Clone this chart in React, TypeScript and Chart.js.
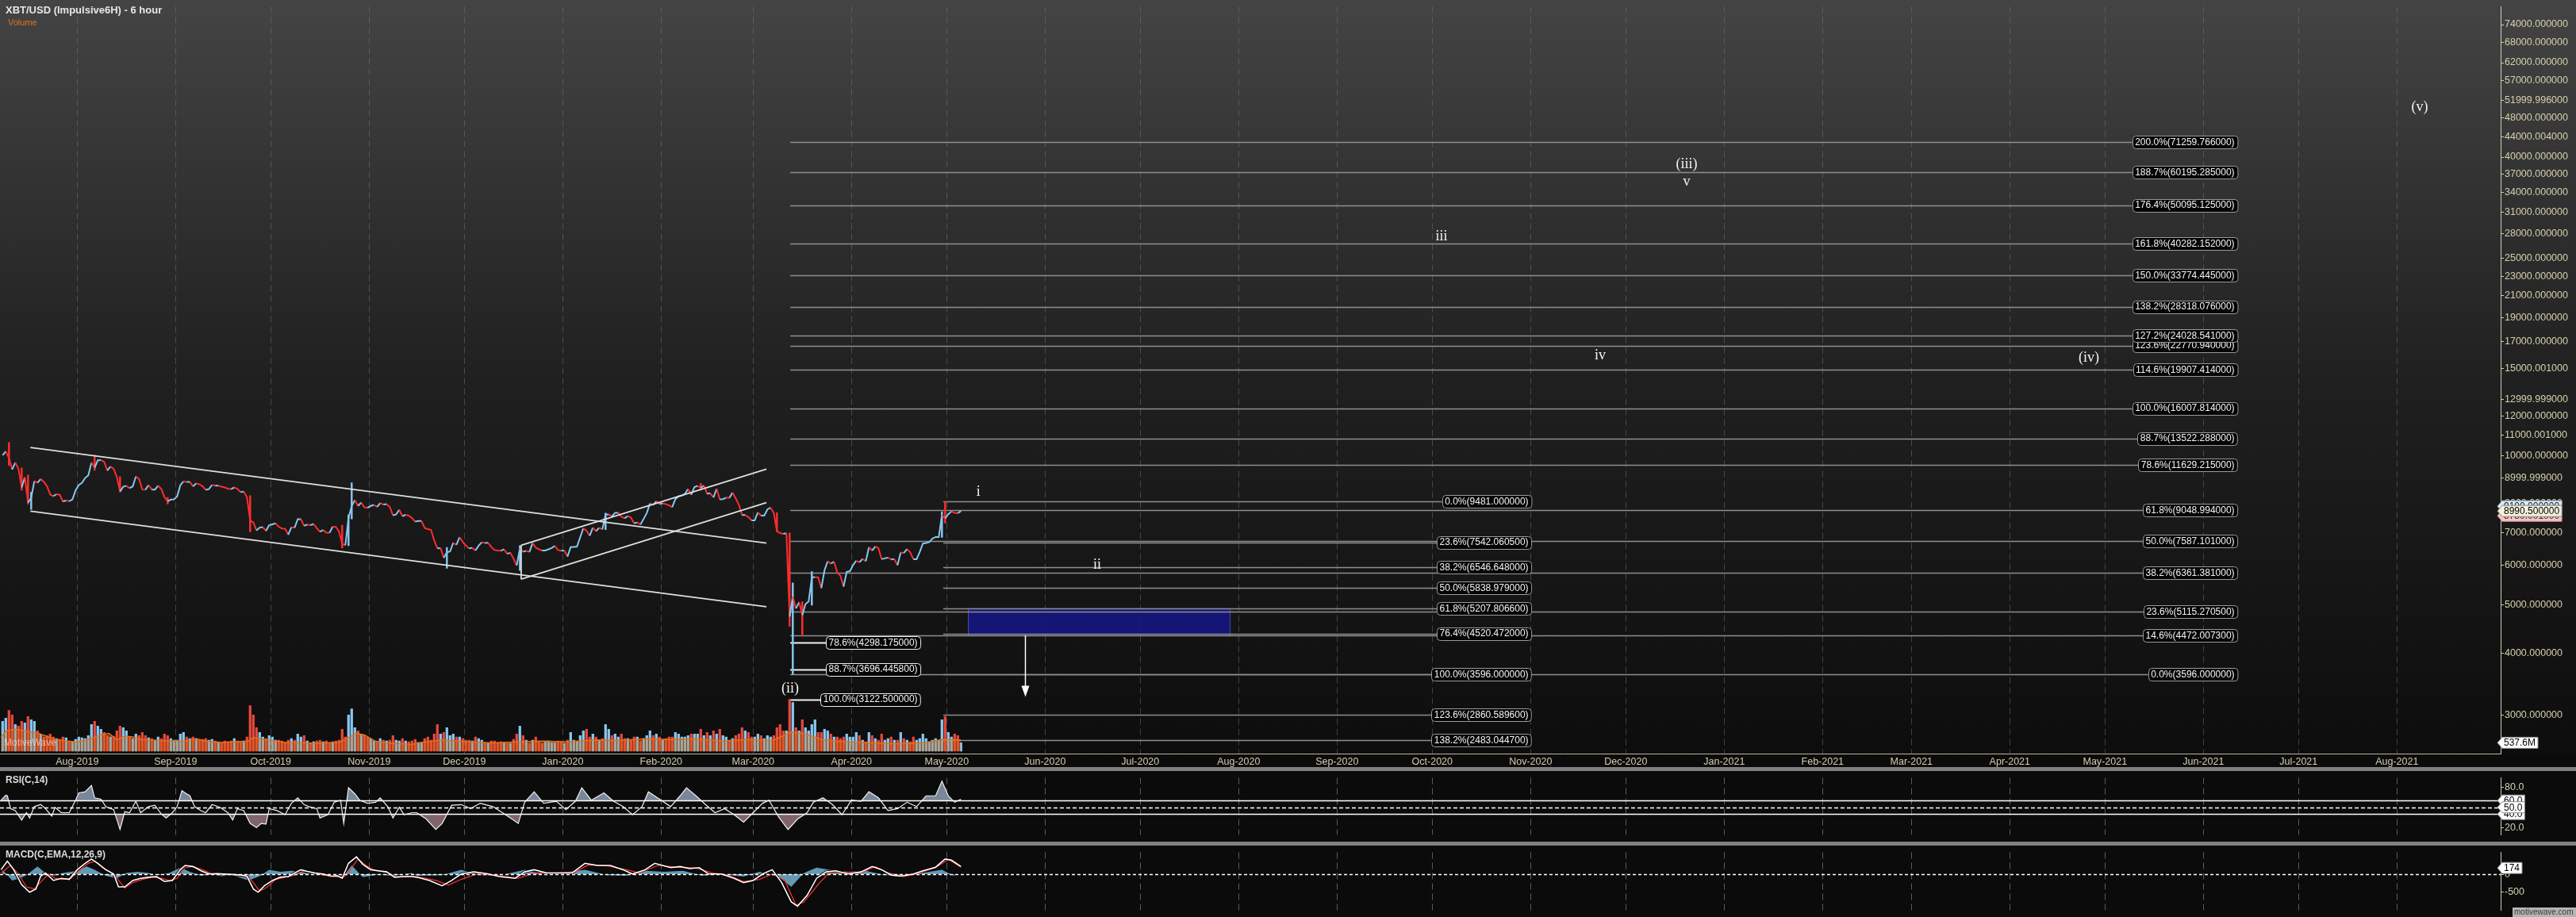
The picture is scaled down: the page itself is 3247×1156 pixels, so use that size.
import React, { useEffect, useRef } from 'react';
import { Chart, registerables } from 'chart.js';

Chart.register(...registerables);

const FONT = '"Liberation Sans", Arial, Helvetica, sans-serif';
const SERIF = '"Liberation Serif", "DejaVu Serif", "Times New Roman", serif';
const KHAKI = '#d4cfad';
const UP = '#86c8f0';
const DOWN = '#ff2d2d';

// ---------------- axis labels ----------------
const monthTickLabels = ['Aug-2019', 'Sep-2019', 'Oct-2019', 'Nov-2019', 'Dec-2019', 'Jan-2020', 'Feb-2020', 'Mar-2020', 'Apr-2020', 'May-2020', 'Jun-2020', 'Jul-2020', 'Aug-2020', 'Sep-2020', 'Oct-2020', 'Nov-2020', 'Dec-2020', 'Jan-2021', 'Feb-2021', 'Mar-2021', 'Apr-2021', 'May-2021', 'Jun-2021', 'Jul-2021', 'Aug-2021'];
const priceTickValues = [74000, 68000, 62000, 57000, 51999.996, 48000, 44000.004, 40000, 37000, 34000, 31000, 28000, 25000, 23000, 21000, 19000, 17000, 15000.001, 12999.999, 12000, 11000.001, 10000, 8999.999, 8000, 7000, 6000, 5000, 4000, 3000];
const priceTickLabels = ['74000.000000', '68000.000000', '62000.000000', '57000.000000', '51999.996000', '48000.000000', '44000.004000', '40000.000000', '37000.000000', '34000.000000', '31000.000000', '28000.000000', '25000.000000', '23000.000000', '21000.000000', '19000.000000', '17000.000000', '15000.001000', '12999.999000', '12000.000000', '11000.001000', '10000.000000', '8999.999000', '8000.000000', '7000.000000', '6000.000000', '5000.000000', '4000.000000', '3000.000000'];
const rsiTickValues = [80, 20];
const rsiTickLabels = ['80.0', '20.0'];
const macdTickValues = [0, -500];
const macdTickLabels = ['0', '-500'];

// ---------------- price (daily closes, XBT/USD) ----------------
const priceStartDate = '2019-07-08';
const closeJul2019 = [12290, 12570, 12100, 11350, 11800, 11390, 10260, 10860, 9430, 9680, 10640, 10530, 10760, 10590, 10330, 9860, 9770, 9880, 9850, 9480, 9530, 9500, 9590, 10090];
const closeAug2019 = [10400, 10520, 10820, 10980, 11800, 11470, 11950, 11960, 11850, 11290, 11540, 11390, 10880, 10030, 10300, 10360, 10220, 10320, 10920, 10760, 10140, 10130, 10400, 10140, 10140, 10360, 10180, 9720, 9490, 9590, 9600];
const closeSep2019 = [9760, 10390, 10620, 10580, 10580, 10320, 10500, 10440, 10340, 10120, 10160, 10410, 10360, 10360, 10310, 10260, 10190, 10160, 10270, 10180, 9990, 10030, 9700, 8530, 8430, 8060, 8190, 8210, 8040, 8300];
const closeOct2019 = [8340, 8390, 8230, 8150, 8140, 7870, 8210, 8180, 8590, 8590, 8270, 8330, 8300, 8360, 8160, 8000, 8080, 7960, 7950, 8230, 8220, 8020, 7470, 7420, 8660, 9250, 9550, 9250, 9430, 9180, 9150];
const closeNov2019 = [9250, 9300, 9200, 9400, 9320, 9340, 9200, 8770, 8820, 9050, 8730, 8800, 8760, 8640, 8470, 8500, 8500, 8170, 8120, 8080, 7620, 7290, 7300, 6910, 7130, 7160, 7520, 7430, 7760, 7560];
const closeDec2019 = [7400, 7290, 7310, 7200, 7400, 7540, 7510, 7520, 7340, 7220, 7200, 7190, 7250, 7070, 7110, 6880, 6620, 7280, 7150, 7190, 7140, 7510, 7320, 7250, 7200, 7200, 7250, 7300, 7390, 7220, 7190];
const closeJan2020 = [7200, 6960, 7340, 7350, 7360, 7760, 8160, 8050, 7820, 8190, 8030, 8180, 8110, 8810, 8820, 8720, 8900, 8900, 8700, 8630, 8740, 8660, 8390, 8430, 8330, 8600, 8890, 9380, 9300, 9500, 9350];
const closeFeb2020 = [9390, 9340, 9290, 9180, 9610, 9760, 9800, 9900, 10170, 9850, 10280, 10350, 10240, 10370, 9900, 9930, 9700, 10180, 9600, 9610, 9690, 9670, 9970, 9660, 9310, 8790, 8790, 8690, 8530];
const closeMar2020 = [8530, 8920, 8760, 8760, 9070, 9160, 8900, 8030, 7940, 7910, 7930, 4970, 5560, 5200, 5390, 5010, 5330, 5410, 6190, 6200, 6190, 5830, 6450, 6780, 6690, 6760, 6370, 6250, 5880, 6390, 6410];
const closeApr2020 = [6640, 6800, 6740, 6870, 6780, 7340, 7200, 7370, 7290, 6860, 6890, 6920, 6850, 6860, 6630, 7120, 7100, 7260, 7130, 6860, 6860, 7140, 7490, 7510, 7550, 7700, 7770, 7770, 8780, 8630];
const closeMay2020 = [8830, 8970, 8900, 8880, 8990.5];

// notable intraday extremes (wicks)
const wickDates = ['2019-07-10', '2019-07-14', '2019-07-16', '2019-07-17', '2019-08-06', '2019-08-14', '2019-08-29', '2019-09-24', '2019-10-23', '2019-10-25', '2019-10-26', '2019-11-25', '2019-12-18', '2020-01-14', '2020-02-13', '2020-03-08', '2020-03-12', '2020-03-13', '2020-03-16', '2020-03-19', '2020-04-29', '2020-04-30'];
const wickLows = [11600, 10100, 9350, 9070, 11300, 10000, 9350, 8000, 7300, 7400, 8600, 6515, 6435, 8100, 10100, 8000, 4700, 3596, 4450, 5300, 7750, 8400];
const wickHighs = [13200, 11450, 11000, 9990, 12300, 10900, 9700, 9800, 8300, 8800, 10540, 7330, 7400, 8880, 10500, 8900, 7950, 6000, 5400, 6400, 8950, 9481];

// ---------------- volume (millions) ----------------
const volJul2019 = [1900, 2100, 2600, 2300, 1700, 1600, 1900, 1800, 2200, 2000, 1900, 1300, 1100, 900, 1000, 1100, 900, 800, 750, 900, 850, 650, 600, 750];
const volAug2019 = [900, 850, 800, 1000, 1700, 1900, 1600, 1400, 1200, 1000, 900, 950, 1300, 1600, 1500, 1300, 900, 800, 1100, 1000, 1200, 1000, 850, 800, 700, 900, 800, 1100, 1000, 800, 700];
const volSep2019 = [700, 1100, 1200, 900, 800, 900, 800, 700, 750, 800, 700, 750, 650, 600, 550, 650, 600, 650, 800, 650, 600, 650, 900, 2900, 2300, 1500, 1200, 900, 800, 1000];
const volOct2019 = [900, 700, 700, 650, 550, 700, 800, 700, 1100, 900, 1000, 650, 550, 600, 650, 700, 600, 650, 500, 600, 650, 700, 1400, 900, 2300, 2700, 1500, 1300, 1100, 1000, 900];
const volNov2019 = [800, 650, 600, 800, 700, 650, 700, 1000, 700, 650, 800, 650, 600, 650, 750, 550, 550, 800, 900, 700, 1100, 1700, 1100, 1200, 1500, 1000, 1100, 900, 900, 800];
const volDec2019 = [700, 700, 650, 900, 800, 700, 550, 500, 650, 650, 550, 600, 550, 500, 500, 750, 1100, 1600, 1000, 700, 500, 700, 900, 650, 500, 600, 650, 550, 550, 650, 600];
const volJan2020 = [500, 700, 1200, 700, 650, 1000, 1300, 1400, 900, 1100, 900, 700, 800, 1700, 1400, 1000, 1100, 900, 1100, 800, 800, 700, 900, 900, 650, 800, 1000, 1300, 1000, 1100, 900];
const volFeb2020 = [700, 800, 900, 900, 1200, 1100, 900, 900, 1000, 1100, 1100, 1100, 1400, 1000, 1200, 1000, 1300, 1100, 1400, 1000, 900, 700, 800, 1000, 1100, 1500, 1300, 1200, 900];
const volMar2020 = [900, 1100, 1000, 800, 1000, 900, 1000, 1500, 1700, 1300, 1300, 3300, 3100, 1500, 1300, 2000, 1500, 1300, 1700, 2000, 1200, 1200, 1400, 1300, 1100, 900, 900, 800, 900, 1100, 900];
const volApr2020 = [900, 1200, 1000, 700, 600, 1200, 1000, 800, 700, 1100, 700, 800, 900, 700, 700, 1200, 800, 700, 600, 900, 700, 800, 1100, 800, 600, 700, 800, 700, 2000, 2200];
const volMay2020 = [1200, 900, 1100, 1000, 537.6];

// volume moving average: [day since 2019-08-01, millions]
const volMaPoints = [[-24, 880], [-22.5, 1290], [-19.5, 1400], [-16, 1290], [-12, 1130], [-7.5, 800], [-3.5, 640], [0, 590], [3, 720], [7.5, 1040], [10, 1130], [12.5, 720], [15, 965], [17.5, 915], [20.5, 750], [25.5, 686], [30, 640], [34, 640], [37.5, 800], [40.5, 640], [45, 555], [49, 590], [54, 640], [55.5, 880], [59, 750], [62.5, 640], [65.5, 555], [70, 555], [74, 475], [78, 525], [82.5, 555], [85.5, 880], [88, 1130], [90.5, 1040], [94, 640], [97.5, 525], [102.5, 475], [105.5, 425], [107, 525], [115, 720], [123, 590], [131, 525], [139, 590], [147, 640], [155, 590], [163, 720], [171, 686], [179, 800], [187, 750], [195, 800], [203, 640], [211, 750], [219, 686], [225, 1210], [229, 1130], [235, 720], [243, 590], [250.5, 525], [258.5, 475], [266.5, 525], [272.5, 750], [278.5, 720]];

// ---------------- RSI(C,14) : [day, value] ----------------
const rsiPoints = [[-24, 60.6], [-22.5, 68], [-22, 67], [-21, 48], [-19.5, 45], [-17.5, 31], [-16, 42], [-15, 34], [-13.5, 51], [-11.5, 54], [-10, 48], [-8, 37], [-7, 50], [-5, 42], [-2.5, 42], [-0.5, 60.6], [0.5, 71.5], [2.5, 73], [4.5, 82.5], [5.5, 64], [7.5, 62], [9, 51], [11.5, 46.5], [13.5, 17], [15, 43.4], [16.5, 42], [18.5, 59], [20, 42], [22.5, 51], [24.5, 53], [26.5, 40], [28, 34], [30, 42], [31.5, 51], [33, 74.7], [34, 71.5], [35.5, 67], [37, 51], [39, 45], [40.5, 42], [42.5, 54], [45, 50], [47.5, 42], [49, 31], [50.5, 48], [52.5, 45], [54.5, 26], [56.5, 20], [58, 26], [59.5, 25], [60.5, 48], [63, 45], [65.5, 39], [67.5, 56], [69.5, 64], [71.5, 54], [73, 51], [75.5, 48], [76.5, 34], [79, 39], [81, 57.5], [83, 60.6], [84, 26], [85.5, 79], [87.5, 70], [89, 60.6], [91.5, 56], [94, 57.5], [95.5, 64], [98, 50], [99.5, 34], [101.5, 50], [103, 39], [105.5, 42], [107, 42], [110, 32.5], [113, 17], [115, 26], [118, 53], [121, 54], [124, 48], [127, 56], [131, 51], [134, 42], [137, 32.5], [139, 26], [141, 57.5], [144, 73], [147, 56], [151, 59], [154, 46.5], [157, 59], [159, 79], [162, 60.6], [166, 71.5], [169, 59], [172, 51], [175, 39], [178, 51], [180, 73], [184, 60.6], [187, 51], [190, 67], [192, 79], [195, 67], [198, 54], [201, 42], [204, 48], [207, 39], [210, 28], [213, 42], [216, 56], [218, 60.6], [221, 36], [224, 17], [227, 32.5], [230, 42], [232, 57.5], [235, 64], [238, 54], [241, 39], [244, 60.6], [247, 59], [249.5, 73], [252.5, 64], [255.5, 45], [258.5, 48], [261.5, 57.5], [264.5, 51], [267.5, 67], [270.5, 67], [272.5, 88.7], [274.5, 67], [276.5, 57.5], [278.5, 62]];
const rsiLevels = [60, 50, 40];

// ---------------- MACD(C,EMA,12,26,9) : [day, value] ----------------
const macdPoints = [[-24, 125], [-22, 363], [-20, 125], [-17.5, -292], [-15, -500], [-13, -410], [-11.5, -54], [-10, 36], [-7.5, -173], [-5, -113], [-2.5, -143], [0, 125], [2.5, 303], [4.5, 422], [6.5, 303], [9, 125], [11.5, 6], [13, -351], [15, -351], [17.5, -173], [20, -113], [22.5, -83], [25, -65], [27.5, -202], [30, -173], [32.5, 125], [34, 244], [36.5, 214], [39, 95], [41.5, 6], [44, 18], [46.5, 6], [49, -6], [51.5, -24], [53.5, -54], [55.5, -410], [57, -500], [59, -321], [61.5, -173], [64, -83], [66.5, -65], [68, 6], [70.5, 125], [72.5, 77], [75, 36], [77.5, 6], [80, -54], [82, -42], [83.5, -113], [85.5, 303], [88, 482], [90, 274], [92.5, 125], [95, 95], [97.5, 65], [100, -83], [102.5, -65], [105.5, -65], [107, -83], [111, -173], [115, -321], [118, -173], [121, 6], [125, 65], [129, 18], [133, -65], [138, -113], [141, 65], [144, 125], [148, 36], [152, 36], [156, 36], [160, 303], [164, 244], [168, 244], [172, 125], [175, 6], [179, 125], [182, 303], [187, 184], [190, 214], [193, 155], [196, 184], [199, 6], [203, 6], [207, -113], [210, -232], [213, -173], [216, 6], [219, 125], [222, -232], [225, -768], [227, -887], [230, -589], [233, -113], [236, 65], [239, 95], [243, 6], [247, 65], [250.5, 214], [253.5, 125], [256.5, -24], [259.5, -54], [263.5, 6], [266.5, 95], [270.5, 196], [273.5, 422], [275.5, 392], [278.5, 214]];
const signalPoints = [[-24, 36], [-21, 244], [-18.5, 6], [-16, -351], [-13.5, -410], [-11, -173], [-9, 6], [-7, -113], [-4.5, -143], [-2, -113], [0.5, 95], [3.5, 303], [5.5, 363], [8, 184], [10.5, 65], [12.5, -113], [15, -381], [17.5, -232], [20.5, -143], [23.5, -83], [26.5, -113], [29, -173], [31.5, -113], [34, 184], [36.5, 214], [39.5, 125], [42.5, 6], [45.5, -6], [49, -12], [52.5, -24], [55, -173], [57.5, -470], [60, -351], [62.5, -143], [65.5, -83], [68.5, -24], [71.5, 95], [74.5, 36], [77.5, -24], [80.5, -65], [84, -83], [86, 125], [88.5, 422], [91.5, 214], [94, 95], [97.5, 65], [100.5, -83], [105.5, -65], [107, -65], [113, -173], [117, -303], [121, -143], [126, 6], [133, -42], [139, -113], [144, 36], [151, 36], [157, 65], [161, 256], [167, 232], [173, 125], [177, 36], [183, 244], [189, 196], [195, 173], [200, 36], [205, -24], [210, -202], [215, -143], [219, 6], [223, -173], [226.5, -857], [229, -768], [234, -232], [237, 36], [242, 54], [247, 36], [251.5, 214], [255.5, 36], [260.5, -65], [265.5, 36], [270.5, 184], [274.5, 410], [278.5, 196]];
const histPoints = [[-23.5, 125], [-20.5, -173], [-18, -113], [-16, -24], [-12.5, 214], [-10.5, 65], [-7.5, -42], [-4.5, 36], [0, 95], [3, 214], [5.5, 125], [9, -42], [12.5, -113], [15.5, 36], [19, 65], [22.5, 36], [25.5, -24], [29, 36], [32.5, 184], [35.5, 65], [39, -42], [42.5, 0], [45.5, -54], [49, -24], [54, -173], [57.5, -54], [60.5, 125], [64, 65], [67.5, 95], [70.5, 65], [74, 0], [77.5, -24], [80.5, 0], [84, -42], [86.5, 244], [90, -83], [92.5, -42], [95.5, 0], [99, -54], [102.5, -6], [105.5, 36], [107, -42], [115, -24], [121, 125], [127, -24], [135, 0], [141, 125], [147, 0], [155, 65], [160, 125], [167, -24], [173, -42], [179, 95], [185, 65], [191, 95], [197, -42], [203, 0], [210, -65], [215, 65], [221, -65], [225, -351], [229, 36], [233, 184], [237, 125], [243, 65], [248.5, 95], [254.5, -24], [262.5, -24], [268.5, 65], [272.5, 125], [276.5, -54]];
const macdLastValue = 174;

// ---------------- Fibonacci sets ----------------
const fibRetraceLevels = ['0.0%', '23.6%', '38.2%', '50.0%', '61.8%', '76.4%', '100.0%', '123.6%', '138.2%'];
const fibRetracePrices = [9481.0, 7542.0605, 6546.648, 5838.979, 5207.8066, 4520.472, 3596.0, 2860.5896, 2483.0447];
const fibExtLevels = ['0.0%', '14.6%', '23.6%', '38.2%', '50.0%', '61.8%', '78.6%', '88.7%', '100.0%', '114.6%', '123.6%', '127.2%', '138.2%', '150.0%', '161.8%', '176.4%', '188.7%', '200.0%'];
const fibExtPrices = [3596.0, 4472.0073, 5115.2705, 6361.381, 7587.101, 9048.994, 11629.215, 13522.288, 16007.814, 19907.414, 22770.94, 24028.541, 28318.076, 33774.445, 40282.152, 50095.125, 60195.285, 71259.766];
const fibWave2Levels = ['78.6%', '88.7%', '100.0%'];
const fibWave2Prices = [4298.175, 3696.4458, 3122.5];

// ---------------- wave labels / drawings ----------------
const waveLabels = ['i', 'ii', '(ii)', 'iii', '(iii)', 'v', 'iv', '(iv)', '(v)'];
const waveDays = [284, 321.4, 224.7, 429.9, 507.2, 507.2, 479.9, 633.9, 738.2];
const wavePrices = [10018, 6646, 3308, 42060, 62870, 57050, 21510, 21230, 86750];
const channelLines = [
  [-14.75, 12842, 217.2, 7508],
  [-14.75, 8982, 217.2, 5251],
  [139.9, 6131, 217.2, 9420],
  [139.9, 7419, 217.2, 11370],
  [139.9, 6131, 139.9, 7419],
];
const zoneDays = [280.7, 363.2];
const zonePrices = [5207.8066, 4472.0073];
const arrowDay = 298.6;
const arrowPrices = [4472.0073, 3165];
const lastPrice = 8990.5;
const lastVolume = 537.6;

// ---------------- layout (positions in axis units) ----------------
const X_MIN = -24.325;
const X_MAX = 763.675;
const FIB_RETRACE_FROM = 272.9;
const FIB_RETRACE_LABEL_RIGHT = 458.2;
const FIB_EXT_FROM = 224.7;
const FIB_EXT_LABEL_RIGHT = 680.7;
const FIB_W2_FROM = 224.7;
const FIB_W2_LABEL_RIGHT = 265.7;

// ---------------- helpers ----------------
const DAY0 = Date.UTC(2019, 7, 1);
const MONTHS = ['Jan', 'Feb', 'Mar', 'Apr', 'May', 'Jun', 'Jul', 'Aug', 'Sep', 'Oct', 'Nov', 'Dec'];
const dayOf = (s: string) => (Date.parse(s + 'T00:00:00Z') - DAY0) / 86400000;
const monthDay = (lbl: string) => {
  const [m, y] = lbl.split('-');
  return (Date.UTC(+y, MONTHS.indexOf(m), 1) - DAY0) / 86400000;
};
const monthTickDays = monthTickLabels.map(monthDay);
const closes = [...closeJul2019, ...closeAug2019, ...closeSep2019, ...closeOct2019, ...closeNov2019, ...closeDec2019, ...closeJan2020, ...closeFeb2020, ...closeMar2020, ...closeApr2020, ...closeMay2020];
const volumes = [...volJul2019, ...volAug2019, ...volSep2019, ...volOct2019, ...volNov2019, ...volDec2019, ...volJan2020, ...volFeb2020, ...volMar2020, ...volApr2020, ...volMay2020];
const startDay = dayOf(priceStartDate);
const isUp = (i: number) => i <= 0 || closes[i] >= closes[i - 1];
const toXY = (pts: number[][]) => pts.map(([x, y]) => ({ x, y }));

function drawMonthGrid(chart: any, color: string) {
  const { ctx, chartArea } = chart;
  const xs = chart.scales.x;
  ctx.save();
  ctx.strokeStyle = color;
  ctx.lineWidth = 1;
  ctx.setLineDash([8, 5]);
  monthTickDays.forEach((d) => {
    const x = Math.round(xs.getPixelForValue(d)) + 0.5;
    ctx.beginPath();
    ctx.moveTo(x, chartArea.top);
    ctx.lineTo(x, chartArea.bottom);
    ctx.stroke();
  });
  ctx.restore();
}

function tag(ctx: any, text: string, x: number, y: number, fill: string, stroke: string, color: string) {
  ctx.save();
  ctx.font = `12px ${FONT}`;
  const w = ctx.measureText(text).width;
  const h = 14;
  const a = 6;
  ctx.beginPath();
  ctx.moveTo(x, y);
  ctx.lineTo(x + a, y - h / 2);
  ctx.lineTo(x + a + w + 5, y - h / 2);
  ctx.lineTo(x + a + w + 5, y + h / 2);
  ctx.lineTo(x + a, y + h / 2);
  ctx.closePath();
  ctx.fillStyle = fill;
  ctx.fill();
  ctx.strokeStyle = stroke;
  ctx.lineWidth = 1;
  ctx.stroke();
  ctx.fillStyle = color;
  ctx.textAlign = 'left';
  ctx.textBaseline = 'middle';
  ctx.fillText(text, x + a + 2, y + 0.5);
  ctx.restore();
}

function boxWidth(ctx: any, text: string) {
  ctx.font = `12px ${FONT}`;
  return ctx.measureText(text).width + 7;
}

function fibBox(ctx: any, text: string, xLeft: number, y: number, border: string) {
  ctx.save();
  ctx.font = `12px ${FONT}`;
  const w = ctx.measureText(text).width + 7;
  const h = 16;
  ctx.beginPath();
  ctx.roundRect(Math.round(xLeft) + 0.5, Math.round(y - h / 2) + 0.5, w, h, 4);
  ctx.fillStyle = '#050505';
  ctx.fill();
  ctx.strokeStyle = border;
  ctx.lineWidth = 1;
  ctx.stroke();
  ctx.fillStyle = '#f2f2f2';
  ctx.textAlign = 'left';
  ctx.textBaseline = 'middle';
  ctx.fillText(text, xLeft + 3.5, y + 0.5);
  ctx.restore();
}

const fibText = (lvl: string, p: number) => `${lvl}(${p.toFixed(6)})`;

// ---------------- price panel ----------------
const pricePlugin = {
  id: 'priceDecor',
  beforeDraw(chart: any) {
    const { ctx, width, height, chartArea } = chart;
    ctx.save();
    const g = ctx.createLinearGradient(0, 0, 0, chartArea.bottom);
    g.addColorStop(0, '#444444');
    g.addColorStop(0.5, '#202020');
    g.addColorStop(1, '#0d0d0d');
    ctx.fillStyle = g;
    ctx.fillRect(0, 0, width, chartArea.bottom);
    ctx.fillStyle = '#0b0b0b';
    ctx.fillRect(0, chartArea.bottom, width, height - chartArea.bottom);
    ctx.restore();
  },
  beforeDatasetsDraw(chart: any) {
    const { ctx } = chart;
    const xs = chart.scales.x;
    const ys = chart.scales.y;
    drawMonthGrid(chart, 'rgba(125,125,125,0.45)');
    ctx.save();
    const zx0 = xs.getPixelForValue(zoneDays[0]);
    const zx1 = xs.getPixelForValue(zoneDays[1]);
    const zy0 = ys.getPixelForValue(zonePrices[0]);
    const zy1 = ys.getPixelForValue(zonePrices[1]);
    ctx.fillStyle = 'rgba(22,22,132,0.88)';
    ctx.fillRect(zx0, zy0, zx1 - zx0, zy1 - zy0);
    ctx.strokeStyle = 'rgba(90,90,210,0.8)';
    ctx.lineWidth = 1;
    ctx.strokeRect(zx0 + 0.5, zy0 + 0.5, zx1 - zx0, zy1 - zy0);

    const drawSet = (levels: string[], prices: number[], from: number, labelRight: number, lineColor: string, border: string, lw: number) => {
      const x0 = xs.getPixelForValue(from);
      const xr = xs.getPixelForValue(labelRight);
      levels.forEach((lvl, i) => {
        const text = fibText(lvl, prices[i]);
        const w = boxWidth(ctx, text);
        const y = Math.round(ys.getPixelForValue(prices[i])) + 0.5;
        ctx.strokeStyle = lineColor;
        ctx.lineWidth = lw;
        ctx.beginPath();
        ctx.moveTo(x0, y);
        ctx.lineTo(xr - w, y);
        ctx.stroke();
      });
      levels.forEach((lvl, i) => {
        const text = fibText(lvl, prices[i]);
        const w = boxWidth(ctx, text);
        fibBox(ctx, text, xr - w, ys.getPixelForValue(prices[i]), border);
      });
    };
    drawSet(fibExtLevels, fibExtPrices, FIB_EXT_FROM, FIB_EXT_LABEL_RIGHT, '#8e8e8e', '#9a9a9a', 1.3);
    drawSet(fibRetraceLevels, fibRetracePrices, FIB_RETRACE_FROM, FIB_RETRACE_LABEL_RIGHT, '#8e8e8e', '#9a9a9a', 1.3);
    drawSet(fibWave2Levels, fibWave2Prices, FIB_W2_FROM, FIB_W2_LABEL_RIGHT, '#f0f0f0', '#f0f0f0', 2);
    ctx.restore();
  },
  afterDatasetsDraw(chart: any) {
    const { ctx, chartArea } = chart;
    const xs = chart.scales.x;
    const ys = chart.scales.y;
    ctx.save();
    ctx.strokeStyle = '#dedede';
    ctx.lineWidth = 1.8;
    channelLines.forEach(([d1, p1, d2, p2]) => {
      ctx.beginPath();
      ctx.moveTo(xs.getPixelForValue(d1), ys.getPixelForValue(p1));
      ctx.lineTo(xs.getPixelForValue(d2), ys.getPixelForValue(p2));
      ctx.stroke();
    });
    const ax = Math.round(xs.getPixelForValue(arrowDay)) + 0.5;
    const ay0 = ys.getPixelForValue(arrowPrices[0]);
    const ay1 = ys.getPixelForValue(arrowPrices[1]);
    ctx.strokeStyle = '#ffffff';
    ctx.lineWidth = 1.5;
    ctx.beginPath();
    ctx.moveTo(ax, ay0);
    ctx.lineTo(ax, ay1 - 10);
    ctx.stroke();
    ctx.fillStyle = '#ffffff';
    ctx.beginPath();
    ctx.moveTo(ax - 5, ay1 - 14);
    ctx.lineTo(ax + 5, ay1 - 14);
    ctx.lineTo(ax, ay1);
    ctx.closePath();
    ctx.fill();
    ctx.font = `18px ${SERIF}`;
    ctx.fillStyle = '#f2f2f2';
    ctx.textAlign = 'center';
    ctx.textBaseline = 'middle';
    waveLabels.forEach((t, i) => {
      ctx.fillText(t, xs.getPixelForValue(waveDays[i]), ys.getPixelForValue(wavePrices[i]));
    });
    ctx.font = `12px ${FONT}`;
    ctx.fillStyle = 'rgba(255,255,255,0.55)';
    ctx.textAlign = 'left';
    ctx.fillText('MotiveWave', 5, chartArea.bottom - 13);
    ctx.restore();
  },
  afterDraw(chart: any) {
    const { ctx, chartArea } = chart;
    const ys = chart.scales.y;
    const yv = chart.scales.yVol;
    ctx.save();
    ctx.textAlign = 'left';
    ctx.textBaseline = 'middle';
    ctx.font = `bold 13px ${FONT}`;
    ctx.fillStyle = '#e6e6e6';
    ctx.fillText('XBT/USD (Impulsive6H) - 6 hour', 7, 13);
    ctx.font = `11px ${FONT}`;
    ctx.fillStyle = '#e0731e';
    ctx.fillText('Volume', 10, 29);
    ctx.restore();
    const yp = ys.getPixelForValue(lastPrice);
    const xr = chartArea.right - 4;
    tag(ctx, '9100.000000', xr, yp - 6, '#d8ecf4', '#9ab', '#223');
    tag(ctx, '8780.001000', xr, yp + 6, '#f4c4c4', '#c99', '#422');
    tag(ctx, lastPrice.toFixed(6), xr, yp, '#f4f0dc', '#8a8a8a', '#000000');
    tag(ctx, `${lastVolume}M`, xr, yv.getPixelForValue(lastVolume), '#ffffff', '#8a8a8a', '#000000');
  },
};

function priceConfig(): any {
  const pricePts = closes.map((c, i) => ({ x: startDay + i + 0.5, y: c }));
  const volPts = volumes.map((v, i) => ({ x: startDay + i + 0.5, y: v }));
  const wickPts = wickDates.map((d, i) => ({ x: dayOf(d) + 0.5, y: [wickLows[i], wickHighs[i]] }));
  const wickColors = wickDates.map((d) => (isUp(Math.round(dayOf(d) - startDay)) ? UP : DOWN));
  return {
    type: 'line',
    data: {
      datasets: [
        {
          type: 'line', data: pricePts, yAxisID: 'y', borderWidth: 2, pointRadius: 0, tension: 0, order: 0,
          borderColor: UP,
          segment: { borderColor: (c: any) => (c.p1.parsed.y >= c.p0.parsed.y ? UP : DOWN) },
        },
        {
          type: 'bar', data: wickPts, yAxisID: 'y', backgroundColor: wickColors, barThickness: 1.8, grouped: false, order: 1,
        },
        {
          type: 'line', data: toXY(volMaPoints), yAxisID: 'yVol', borderColor: '#e2701a', borderWidth: 1.5, pointRadius: 0,
          fill: 'origin', backgroundColor: 'rgba(228,108,18,0.36)', order: 2,
        },
        {
          type: 'bar', data: volPts, yAxisID: 'yVol', barThickness: 2.6, grouped: false, order: 3,
          backgroundColor: volumes.map((_, i) => (isUp(i) ? UP : '#e8483c')),
        },
      ],
    },
    options: {
      responsive: false, animation: false, devicePixelRatio: 1,
      layout: { padding: 0, autoPadding: false },
      plugins: { legend: { display: false }, tooltip: { enabled: false } },
      scales: {
        x: {
          type: 'linear', min: X_MIN, max: X_MAX, position: 'bottom', offset: false,
          grid: { display: false, drawTicks: false },
          border: { display: true, color: '#bdb79a', width: 1 },
          afterBuildTicks: (s: any) => { s.ticks = monthTickDays.map((v) => ({ value: v })); },
          ticks: { autoSkip: false, maxRotation: 0, minRotation: 0, color: KHAKI, font: { family: FONT, size: 12.5 }, padding: 3, callback: (_v: any, i: number) => monthTickLabels[i] },
          afterFit: (s: any) => { s.height = 17; },
        },
        y: { type: 'logarithmic', display: false, min: 2302, max: 152600 },
        yVol: { type: 'linear', display: false, min: -150, max: 47350 },
        y2: {
          type: 'logarithmic', position: 'right', min: 2506, max: 80400, bounds: 'data',
          afterBuildTicks: (s: any) => { s.ticks = priceTickValues.map((v) => ({ value: v })); },
          ticks: { autoSkip: false, color: KHAKI, font: { family: FONT, size: 12.5 }, padding: 1, callback: (_v: any, i: number) => priceTickLabels[i] },
          grid: { display: true, drawOnChartArea: false, drawTicks: true, tickLength: 4, color: KHAKI },
          border: { display: true, color: KHAKI },
          afterFit: (s: any) => { s.width = 95; },
        },
      },
    },
    plugins: [pricePlugin],
  };
}

// ---------------- RSI panel ----------------
const rsiPlugin = {
  id: 'rsiDecor',
  beforeDraw(chart: any) {
    const { ctx, width, height } = chart;
    ctx.save();
    ctx.fillStyle = '#0b0b0b';
    ctx.fillRect(0, 0, width, height);
    ctx.restore();
  },
  beforeDatasetsDraw(chart: any) { drawMonthGrid(chart, 'rgba(120,120,120,0.75)'); },
  afterDatasetsDraw(chart: any) {
    const { ctx, chartArea } = chart;
    const ys = chart.scales.y;
    ctx.save();
    rsiLevels.forEach((lv) => {
      const y = Math.round(ys.getPixelForValue(lv)) + 0.5;
      ctx.strokeStyle = '#ffffff';
      ctx.lineWidth = 1.5;
      ctx.setLineDash(lv === 50 ? [5, 3] : []);
      ctx.beginPath();
      ctx.moveTo(0, y);
      ctx.lineTo(chartArea.right, y);
      ctx.stroke();
    });
    ctx.setLineDash([]);
    ctx.font = `bold 12px ${FONT}`;
    ctx.fillStyle = '#dddddd';
    ctx.textAlign = 'left';
    ctx.textBaseline = 'middle';
    ctx.fillText('RSI(C,14)', 7, 12);
    ctx.restore();
    const xr = chartArea.right - 4;
    [60, 40, 50].forEach((lv) => tag(ctx, lv.toFixed(1), xr, ys.getPixelForValue(lv), '#ffffff', '#8a8a8a', '#000000'));
  },
};

function rsiConfig(): any {
  const pts = toXY(rsiPoints);
  return {
    type: 'line',
    data: {
      datasets: [
        {
          data: pts, borderColor: '#f0f0f0', borderWidth: 1.2, pointRadius: 0, tension: 0, order: 0,
          fill: { target: { value: 60 }, above: 'rgba(128,142,160,0.95)', below: 'rgba(0,0,0,0)' },
        },
        {
          data: pts, borderColor: 'rgba(0,0,0,0)', borderWidth: 0, pointRadius: 0, tension: 0, order: 1,
          fill: { target: { value: 40 }, above: 'rgba(0,0,0,0)', below: 'rgba(134,106,112,0.95)' },
        },
      ],
    },
    options: {
      responsive: false, animation: false, devicePixelRatio: 1,
      layout: { padding: 0, autoPadding: false },
      plugins: { legend: { display: false }, tooltip: { enabled: false } },
      scales: {
        x: { type: 'linear', display: false, min: X_MIN, max: X_MAX },
        y: {
          type: 'linear', position: 'right', min: 9, max: 93.8,
          afterBuildTicks: (s: any) => { s.ticks = rsiTickValues.map((v) => ({ value: v })); },
          ticks: { autoSkip: false, color: KHAKI, font: { family: FONT, size: 12.5 }, padding: 1, callback: (_v: any, i: number) => rsiTickLabels[i] },
          grid: { display: true, drawOnChartArea: false, drawTicks: true, tickLength: 4, color: KHAKI },
          border: { display: true, color: KHAKI },
          afterFit: (s: any) => { s.width = 95; },
        },
      },
    },
    plugins: [rsiPlugin],
  };
}

// ---------------- MACD panel ----------------
const macdPlugin = {
  id: 'macdDecor',
  beforeDraw(chart: any) {
    const { ctx, width, height } = chart;
    ctx.save();
    ctx.fillStyle = '#0b0b0b';
    ctx.fillRect(0, 0, width, height);
    ctx.restore();
  },
  beforeDatasetsDraw(chart: any) { drawMonthGrid(chart, 'rgba(120,120,120,0.75)'); },
  afterDatasetsDraw(chart: any) {
    const { ctx, chartArea, width, height } = chart;
    const ys = chart.scales.y;
    ctx.save();
    const y0 = Math.round(ys.getPixelForValue(0)) + 0.5;
    ctx.strokeStyle = '#ffffff';
    ctx.lineWidth = 1.5;
    ctx.setLineDash([4, 3]);
    ctx.beginPath();
    ctx.moveTo(0, y0);
    ctx.lineTo(chartArea.right, y0);
    ctx.stroke();
    ctx.setLineDash([]);
    ctx.font = `bold 12px ${FONT}`;
    ctx.fillStyle = '#dddddd';
    ctx.textAlign = 'left';
    ctx.textBaseline = 'middle';
    ctx.fillText('MACD(C,EMA,12,26,9)', 7, 12);
    ctx.fillStyle = '#b4b4b4';
    ctx.fillRect(width - 80, height - 12, 80, 12);
    ctx.font = `10px ${FONT}`;
    ctx.fillStyle = '#3a3a3a';
    ctx.fillText('motivewave.com', width - 78, height - 5.5);
    ctx.restore();
    tag(ctx, String(macdLastValue), chartArea.right - 4, ys.getPixelForValue(macdLastValue), '#ffffff', '#8a8a8a', '#000000');
  },
};

function macdConfig(): any {
  return {
    type: 'line',
    data: {
      datasets: [
        { data: toXY(macdPoints), borderColor: '#ffffff', borderWidth: 1.6, pointRadius: 0, tension: 0, order: 0 },
        { data: toXY(signalPoints), borderColor: '#ff3030', borderWidth: 1.2, pointRadius: 0, tension: 0, order: 1 },
        { data: toXY(macdPoints), borderColor: '#000000', borderWidth: 3.5, pointRadius: 0, tension: 0, order: 2 },
        { data: toXY(histPoints), borderColor: 'rgba(0,0,0,0)', borderWidth: 0, pointRadius: 0, tension: 0, fill: 'origin', backgroundColor: 'rgba(108,168,200,0.9)', order: 3 },
      ],
    },
    options: {
      responsive: false, animation: false, devicePixelRatio: 1,
      layout: { padding: 0, autoPadding: false },
      plugins: { legend: { display: false }, tooltip: { enabled: false } },
      scales: {
        x: { type: 'linear', display: false, min: X_MIN, max: X_MAX },
        y: {
          type: 'linear', position: 'right', min: -1000, max: 607,
          afterBuildTicks: (s: any) => { s.ticks = macdTickValues.map((v) => ({ value: v })); },
          ticks: { autoSkip: false, color: KHAKI, font: { family: FONT, size: 12.5 }, padding: 1, callback: (_v: any, i: number) => macdTickLabels[i] },
          grid: { display: true, drawOnChartArea: false, drawTicks: true, tickLength: 4, color: KHAKI },
          border: { display: true, color: KHAKI },
          afterFit: (s: any) => { s.width = 95; },
        },
      },
    },
    plugins: [macdPlugin],
  };
}

export default function App() {
  const priceRef = useRef<HTMLCanvasElement>(null);
  const rsiRef = useRef<HTMLCanvasElement>(null);
  const macdRef = useRef<HTMLCanvasElement>(null);
  useEffect(() => {
    const charts = [
      new Chart(priceRef.current as any, priceConfig()),
      new Chart(rsiRef.current as any, rsiConfig()),
      new Chart(macdRef.current as any, macdConfig()),
    ];
    return () => charts.forEach((c) => c.destroy());
  }, []);
  return (
    <div style={{ position: 'fixed', left: 0, top: 0, width: 3247, height: 1156, background: '#0a0a0a', overflow: 'hidden' }}>
      <canvas ref={priceRef} width={3247} height={967} style={{ position: 'absolute', left: 0, top: 0 }} />
      <div style={{ position: 'absolute', left: 0, top: 967, width: 3247, height: 5, background: '#808080' }} />
      <canvas ref={rsiRef} width={3247} height={89} style={{ position: 'absolute', left: 0, top: 972 }} />
      <div style={{ position: 'absolute', left: 0, top: 1061, width: 3247, height: 5, background: '#808080' }} />
      <canvas ref={macdRef} width={3247} height={90} style={{ position: 'absolute', left: 0, top: 1066 }} />
    </div>
  );
}
